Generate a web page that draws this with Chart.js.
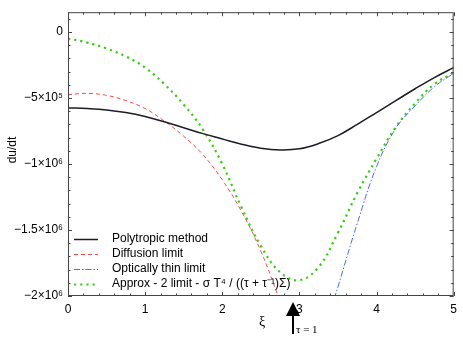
<!DOCTYPE html>
<html>
<head>
<meta charset="utf-8">
<script src="https://cdn.jsdelivr.net/npm/chart.js@4/dist/chart.umd.min.js"></script>
<style>
html,body{margin:0;padding:0;background:#fff;}
canvas{display:block;}
</style>
</head>
<body>
<canvas id="c" width="463" height="338"></canvas>
<script>
// ---- data ----
const xGrid = [0,0.25,0.5,0.75,1,1.25,1.5,1.75,2,2.25,2.5,2.75,3,3.25,3.5,3.75,4,4.25,4.5,4.75,5];
const polytropic = [-5.75e5,-5.8e5,-5.9e5,-6.1e5,-6.4e5,-6.8e5,-7.25e5,-7.7e5,-8.1e5,-8.5e5,-8.8e5,-8.93e5,-8.85e5,-8.45e5,-7.85e5,-7.0e5,-6.1e5,-5.2e5,-4.3e5,-3.45e5,-2.7e5];
const approx2 = [-0.5e5,-0.8e5,-1.25e5,-1.85e5,-2.7e5,-3.95e5,-5.5e5,-7.4e5,-1.0e6,-1.33e6,-1.62e6,-1.82e6,-1.88e6,-1.78e6,-1.52e6,-1.22e6,-9.6e5,-7.2e5,-5.4e5,-3.95e5,-3.08e5];
const xDiffusion = [0,0.25,0.5,0.75,1,1.25,1.5,1.75,2,2.25,2.5,2.75];
const diffusion = [-4.75e5,-4.65e5,-4.8e5,-5.2e5,-5.8e5,-6.75e5,-7.9e5,-9.3e5,-1.12e6,-1.36e6,-1.66e6,-2.04e6];
const xThin = [3.45,3.5,3.75,4,4.25,4.5,4.75,5];
const thin = [-2.02e6,-1.93e6,-1.45e6,-1.02e6,-7.3e5,-5.6e5,-4.15e5,-3.13e5];
const yTickValues = [-2e6,-1.5e6,-1e6,-5e5,0];
const yTickLabels = ['\u22122\u00d710\u2076','\u22121.5\u00d710\u2076','\u22121\u00d710\u2076','\u22125\u00d710\u2075','0'];
const seriesLabels = ['Polytropic method','Diffusion limit','Optically thin limit','Approx - 2 limit - \u03c3 T\u2074 / ((\u03c4 + \u03c4\u207b\u00b9)\u03a3)'];
const tauOneX = 2.92;

const pts = (xs, ys) => xs.map((x,i)=>({x:x,y:ys[i]}));
const FONT = 'Liberation Sans, Arial, sans-serif';

const framePlugin = {
  id:'frame',
  afterDatasetsDraw(chart){
    const ctx = chart.ctx, a = chart.chartArea;
    const xs = chart.scales.x, ys = chart.scales.y;
    ctx.save();
    ctx.strokeStyle = '#444';
    ctx.lineWidth = 1;
    ctx.strokeRect(a.left+0.5, a.top+0.5, a.right-a.left-1, a.bottom-a.top-1);
    ctx.beginPath();
    for(let i=0;i<=25;i++){
      const v = i*0.2;
      const px = Math.round(xs.getPixelForValue(v))+0.5;
      const L = (i%5===0)?4:2.5;
      ctx.moveTo(px,a.bottom); ctx.lineTo(px,a.bottom-L);
      ctx.moveTo(px,a.top); ctx.lineTo(px,a.top+L);
    }
    for(let i=-20;i<=1;i++){
      const v = i*1e5;
      const py = Math.round(ys.getPixelForValue(v))+0.5;
      const L = (i%5===0)?4:2.5;
      ctx.moveTo(a.left,py); ctx.lineTo(a.left+L,py);
      ctx.moveTo(a.right,py); ctx.lineTo(a.right-L,py);
    }
    ctx.stroke();

    // legend
    const rows = [239,254,269,284];
    chart.data.datasets.forEach((ds,i)=>{
      const y = rows[i];
      ctx.save();
      ctx.strokeStyle = ds.borderColor;
      ctx.lineWidth = ds.borderWidth;
      ctx.setLineDash(ds.borderDash||[]);
      ctx.beginPath(); ctx.moveTo(74,y+0.5); ctx.lineTo(98,y+0.5); ctx.stroke();
      ctx.restore();
      ctx.fillStyle = '#000';
      ctx.font = '12px '+FONT;
      ctx.textAlign='left'; ctx.textBaseline='middle';
      ctx.fillText(ds.label,112,y);
    });

    // y title
    ctx.save();
    ctx.translate(13,150);
    ctx.rotate(-Math.PI/2);
    ctx.fillStyle='#000'; ctx.font='12px '+FONT;
    ctx.textAlign='center'; ctx.textBaseline='middle';
    ctx.fillText('du/dt',0,0);
    ctx.restore();

    // xi label
    ctx.fillStyle='#000';
    ctx.font='14px "Liberation Serif", "DejaVu Serif", serif';
    ctx.textAlign='center'; ctx.textBaseline='middle';
    ctx.fillText('\u03be',262,322);

    // tau = 1 arrow
    const ax = Math.round(xs.getPixelForValue(tauOneX));
    ctx.strokeStyle='#000'; ctx.lineWidth=2;
    ctx.beginPath(); ctx.moveTo(ax,334); ctx.lineTo(ax,312); ctx.stroke();
    ctx.beginPath(); ctx.moveTo(ax,302); ctx.lineTo(ax-7,316); ctx.lineTo(ax+7,316); ctx.closePath(); ctx.fill();
    ctx.font='11px "Liberation Serif", "DejaVu Serif", serif';
    ctx.textAlign='left';
    ctx.fillText('\u03c4 = 1',ax+3,330);
    ctx.restore();
  }
};

new Chart(document.getElementById('c'),{
  type:'line',
  data:{datasets:[
    {label:seriesLabels[0],data:pts(xGrid,polytropic),borderColor:'#1c1c24',borderWidth:1.5,borderDash:[],pointRadius:0,tension:0.4},
    {label:seriesLabels[1],data:pts(xDiffusion,diffusion),borderColor:'#ff4a4a',borderWidth:1,borderDash:[4,3],pointRadius:0,tension:0.4},
    {label:seriesLabels[2],data:pts(xThin,thin),borderColor:'#4a6cf0',borderWidth:1,borderDash:[6,2,1.5,2],pointRadius:0,tension:0.4},
    {label:seriesLabels[3],data:pts(xGrid,approx2),borderColor:'#3ccc14',borderWidth:2.2,borderDash:[2.2,4],pointRadius:0,tension:0.4}
  ]},
  options:{
    responsive:false,
    devicePixelRatio:1,
    animation:false,
    layout:{padding:{left:0,top:8,right:8,bottom:0}},
    plugins:{legend:{display:false},tooltip:{enabled:false}},
    scales:{
      x:{type:'linear',min:0,max:5,
        grid:{display:false,drawTicks:false},
        border:{display:false},
        ticks:{stepSize:1,padding:6,color:'#000',font:{family:FONT,size:12}},
        afterFit(s){s.height=42;}
      },
      y:{type:'linear',min:-2e6,max:1.5e5,
        grid:{display:false,drawTicks:false},
        border:{display:false},
        afterBuildTicks(s){s.ticks=yTickValues.map(v=>({value:v}));},
        ticks:{padding:5,color:'#000',font:{family:FONT,size:12},
          callback(v){const i=yTickValues.indexOf(v);return i>=0?yTickLabels[i]:'';}},
        afterFit(s){s.width=68;}
      }
    }
  },
  plugins:[framePlugin]
});
</script>
</body>
</html>
